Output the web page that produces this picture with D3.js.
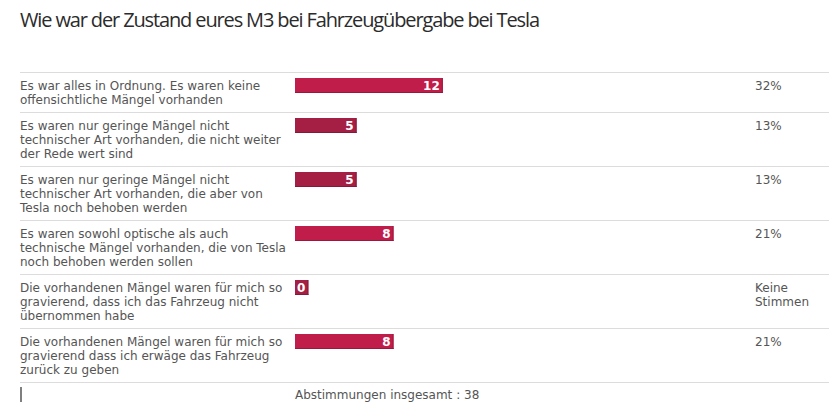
<!DOCTYPE html>
<html><head><meta charset="utf-8">
<script src="https://cdn.jsdelivr.net/npm/d3@7"></script>
<style>body{margin:0;background:#fff}svg{display:block}</style>
</head><body>
<script>
const title = "Wie war der Zustand eures M3 bei Fahrzeugübergabe bei Tesla";
const categories = [
  ["Es war alles in Ordnung. Es waren keine", "offensichtliche Mängel vorhanden"],
  ["Es waren nur geringe Mängel nicht", "technischer Art vorhanden, die nicht weiter", "der Rede wert sind"],
  ["Es waren nur geringe Mängel nicht", "technischer Art vorhanden, die aber von", "Tesla noch behoben werden"],
  ["Es waren sowohl optische als auch", "technische Mängel vorhanden, die von Tesla", "noch behoben werden sollen"],
  ["Die vorhandenen Mängel waren für mich so", "gravierend, dass ich das Fahrzeug nicht", "übernommen habe"],
  ["Die vorhandenen Mängel waren für mich so", "gravierend dass ich erwäge das Fahrzeug", "zurück zu geben"]
];
const votes = [12, 5, 5, 8, 0, 8];
const percentLabels = [["32%"], ["13%"], ["13%"], ["21%"], ["Keine", "Stimmen"], ["21%"]];
const barColors = ["#c01d4a", "#a51f45", "#a51f45", "#c01d4a", "#a51f45", "#c01d4a"];
const totalLabel = "Abstimmungen insgesamt : 38";
const total = d3.sum(votes);

const W = 829, H = 418;
const svg = d3.select("body").append("svg").attr("width", W).attr("height", H);
const font = "'DejaVu Sans', Verdana, sans-serif";

const t = svg.append("text").attr("x", 20).attr("y", 27)
  .attr("font-family", "'Open Sans', sans-serif").attr("font-size", 20)
  .attr("fill", "#2b2b2b").text(title);
const natural = t.node().getComputedTextLength();
t.attr("letter-spacing", (520 - natural) / (title.length - 1));

// row layout from number of lines
const lineH = 14, pad = 12, top0 = 72;
const rowH = categories.map(c => c.length * lineH + pad);
const rowY = [];
rowH.reduce((acc, h, i) => { rowY[i] = acc; return acc + h; }, top0);
const bottomY = rowY[rowY.length - 1] + rowH[rowH.length - 1];

const x = d3.scaleLinear().domain([0, total]).range([0, 468]);
const barX = 295, barH = 15;

const rows = svg.selectAll("g.row").data(categories).join("g").attr("class", "row")
  .attr("transform", (d, i) => `translate(0,${rowY[i]})`);

rows.append("line").attr("x1", 20).attr("x2", W).attr("y1", 0.5).attr("y2", 0.5)
  .attr("stroke", "#dcdcdc").attr("stroke-width", 1);

rows.append("text").attr("font-family", font).attr("font-size", 12).attr("fill", "#555")
  .selectAll("tspan").data(d => d).join("tspan")
  .attr("x", 20).attr("y", (d, j) => 18 + j * lineH).text(d => d);

rows.each(function(d, i) {
  const g = d3.select(this);
  const lbl = g.append("text").attr("font-family", font).attr("font-size", 12)
    .attr("font-weight", "bold").attr("fill", "#fff").text(votes[i]);
  const tw = lbl.node().getComputedTextLength();
  const w = Math.max(x(votes[i]), tw + 5);
  const dark = d3.color(barColors[i]).darker(0.6);
  g.append("rect").attr("x", barX).attr("y", 6).attr("width", w).attr("height", barH)
    .attr("fill", barColors[i]);
  g.append("line").attr("x1", barX).attr("x2", barX + w).attr("y1", 6 + barH - 0.5).attr("y2", 6 + barH - 0.5)
    .attr("stroke", dark);
  g.append("line").attr("x1", barX + w - 0.5).attr("x2", barX + w - 0.5).attr("y1", 6).attr("y2", 6 + barH)
    .attr("stroke", dark);
  lbl.attr("x", barX + w - 3).attr("y", 18).attr("text-anchor", "end");
  lbl.raise();
});

rows.append("text").attr("font-family", font).attr("font-size", 12).attr("fill", "#555")
  .selectAll("tspan").data((d, i) => percentLabels[i]).join("tspan")
  .attr("x", 755).attr("y", (d, j) => 18 + j * lineH).text(d => d);

svg.append("line").attr("x1", 20).attr("x2", W).attr("y1", bottomY + 0.5).attr("y2", bottomY + 0.5)
  .attr("stroke", "#dcdcdc");
svg.append("line").attr("x1", 21).attr("x2", 21).attr("y1", bottomY + 5).attr("y2", bottomY + 20)
  .attr("stroke", "#555").attr("stroke-width", 1.5);
svg.append("text").attr("x", 295).attr("y", bottomY + 17).attr("font-family", font)
  .attr("font-size", 12).attr("fill", "#555").text(totalLabel);
</script>
</body></html>
